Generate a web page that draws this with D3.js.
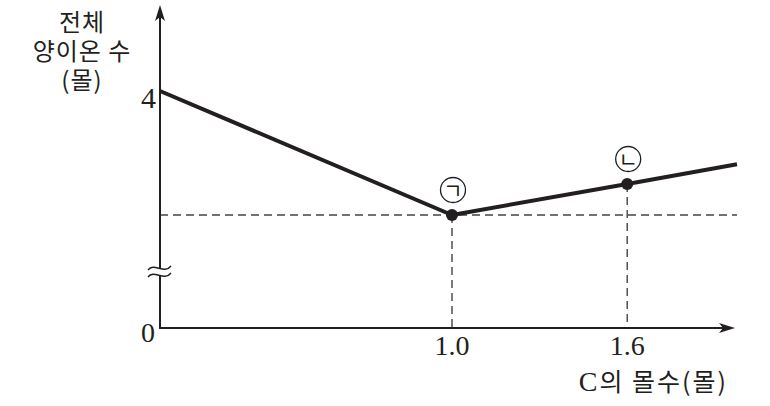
<!DOCTYPE html>
<html>
<head>
<meta charset="utf-8">
<script src="https://cdn.jsdelivr.net/npm/d3@7"></script>
<style>
  body { margin: 0; background: #fff; }
  .kr { font-family: "Noto Sans CJK KR", sans-serif; }
  .num { font-family: "Liberation Serif", serif; }
</style>
</head>
<body>
<div id="chart"></div>
<script>
// data
var molesC = [0, 1.0, 1.6, 1.976];
var cations = [4, 2, 2.5, 2.82];
var markedX = [1.0, 1.6];
var markedY = [2, 2.5];
var markLabels = ["ㄱ", "ㄴ"];
var xTicks = ["1.0", "1.6"];
var yTicks = [4];

var svgWidth = 770;
var svgHeight = 406;
var ink = "#231f20";

var svg = d3.select("#chart")
  .append("svg")
  .attr("width", svgWidth)
  .attr("height", svgHeight);

var x = d3.scaleLinear().domain([0, 1]).range([160, 452]);
var y = d3.scaleLinear().domain([2, 4]).range([215, 91]);
var yZero = 328;

// dashed guides
svg.append("line")
  .attr("x1", x(0)).attr("x2", x(1.976))
  .attr("y1", y(2)).attr("y2", y(2))
  .attr("stroke", "#444").attr("stroke-width", 1.4)
  .attr("stroke-dasharray", "8,5");

svg.selectAll(".vguide")
  .data(markedX)
  .enter()
  .append("line")
  .attr("class", "vguide")
  .attr("x1", d => x(d)).attr("x2", d => x(d))
  .attr("y1", (d, i) => y(markedY[i])).attr("y2", yZero)
  .attr("stroke", "#444").attr("stroke-width", 1.4)
  .attr("stroke-dasharray", "8,5");

// axes
var axisG = svg.append("g")
  .attr("stroke", ink).attr("stroke-width", 2).attr("fill", "none");
axisG.append("line")
  .attr("x1", x(0)).attr("x2", x(0)).attr("y1", yZero + 1).attr("y2", 16);
axisG.append("line")
  .attr("x1", x(0) - 1).attr("x2", 726).attr("y1", yZero).attr("y2", yZero);
svg.append("path")
  .attr("d", `M${x(0)},5 L${x(0) - 5},21 L${x(0)},17 L${x(0) + 5},21 Z`)
  .attr("fill", ink);
svg.append("path")
  .attr("d", `M735,${yZero} L719,${yZero - 5} L723,${yZero} L719,${yZero + 5} Z`)
  .attr("fill", ink);

// break mark on the y axis
var bx = x(0), by = 271;
svg.append("rect")
  .attr("x", bx - 3).attr("y", by - 3).attr("width", 6).attr("height", 7)
  .attr("fill", "#fff");
[-3, 4].forEach(function(off) {
  svg.append("path")
    .attr("d", `M${bx - 12},${by + off + 2} C${bx - 6},${by + off - 6} ${bx + 4},${by + off + 7} ${bx + 11},${by + off - 2}`)
    .attr("fill", "none").attr("stroke", ink).attr("stroke-width", 1.4);
});

// data line
var line = d3.line()
  .x((d, i) => x(molesC[i]))
  .y(d => y(d));
svg.append("path")
  .datum(cations)
  .attr("d", line)
  .attr("fill", "none")
  .attr("stroke", ink)
  .attr("stroke-width", 4)
  .attr("stroke-linejoin", "round");

svg.selectAll(".dot")
  .data(markedX)
  .enter()
  .append("circle")
  .attr("class", "dot")
  .attr("cx", d => x(d))
  .attr("cy", (d, i) => y(markedY[i]))
  .attr("r", 6)
  .attr("fill", ink);

// circled labels
var marks = svg.selectAll(".mark")
  .data(markedX)
  .enter()
  .append("g")
  .attr("class", "mark")
  .attr("transform", (d, i) => `translate(${x(d) + 1}, ${y(markedY[i]) - 25})`);
marks.append("circle")
  .attr("r", 12.5)
  .attr("fill", "#fff")
  .attr("stroke", ink)
  .attr("stroke-width", 1.3);
marks.append("text")
  .attr("class", "kr")
  .attr("text-anchor", "middle")
  .attr("dy", "0.36em")
  .attr("font-size", 21)
  .attr("fill", ink)
  .text((d, i) => markLabels[i]);

// tick labels
svg.selectAll(".ytick")
  .data(yTicks)
  .enter()
  .append("text")
  .attr("class", "num")
  .attr("x", x(0) - 4)
  .attr("y", d => y(d) + 17)
  .attr("text-anchor", "end")
  .attr("font-size", 30)
  .attr("fill", ink)
  .text(d => d);

svg.append("text")
  .attr("class", "num")
  .attr("x", x(0) - 5)
  .attr("y", yZero + 14)
  .attr("text-anchor", "end")
  .attr("font-size", 28)
  .attr("fill", ink)
  .text("0");

svg.selectAll(".xtick")
  .data(xTicks)
  .enter()
  .append("text")
  .attr("class", "num")
  .attr("x", d => x(+d))
  .attr("y", 355)
  .attr("text-anchor", "middle")
  .attr("font-size", 28)
  .attr("fill", ink)
  .text(d => d);

// axis titles
var yTitle = ["전체", "양이온 수", "(몰)"];
svg.selectAll(".ytitle")
  .data(yTitle)
  .enter()
  .append("text")
  .attr("class", "kr")
  .attr("x", 82)
  .attr("y", (d, i) => 31 + i * 29)
  .attr("text-anchor", "middle")
  .attr("font-size", 24)
  .attr("letter-spacing", 1)
  .attr("fill", ink)
  .text(d => d);

var xTitle = svg.append("text")
  .attr("class", "kr")
  .attr("x", 728)
  .attr("y", 391)
  .attr("text-anchor", "end")
  .attr("font-size", 25)
  .attr("letter-spacing", 2)
  .attr("fill", ink);
xTitle.append("tspan").attr("class", "num").attr("font-size", 28).text("C");
xTitle.append("tspan").text("의 몰수(몰)");
</script>
</body>
</html>
